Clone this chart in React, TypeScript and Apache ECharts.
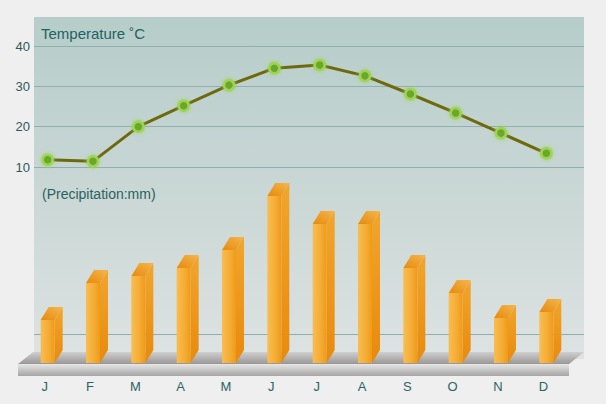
import React, { useEffect, useRef } from "react";
import * as echarts from "echarts";

const months = ["J", "F", "M", "A", "M", "J", "J", "A", "S", "O", "N", "D"];
const temperature = [11.8, 11.4, 20.0, 25.2, 30.3, 34.5, 35.3, 32.6, 28.1, 23.4, 18.4, 13.4];
const precipitation = [43, 80, 87, 95, 113, 167, 139, 139, 95, 70, 45, 51];
const tempTicks = { min: 10, max: 40, interval: 10 };

const FONT = "'Liberation Sans', Arial, sans-serif";

export default function App() {
  const ref = useRef<HTMLDivElement>(null);
  useEffect(() => {
    if (!ref.current) return;
    const chart = echarts.init(ref.current, null, { renderer: "svg" });
    const W = 14, DX = 8, DY = -13;
    const LG = echarts.graphic.LinearGradient;
    const option: any = {
      animation: false,
      grid: [
        { left: 34, right: 22, top: 46, height: 121 },
        { left: 25, right: 37, top: 46, height: 121 },
        { left: 25, right: 37, top: 17, bottom: 41 },
        { left: 22, right: 40, top: 17, bottom: 41 },
      ],
      xAxis: [
        { gridIndex: 0, type: "category", data: months, show: false },
        { gridIndex: 1, type: "category", data: months, show: false },
        { gridIndex: 2, type: "category", data: months, show: false },
        {
          gridIndex: 3, type: "category", data: months,
          axisLine: { show: false }, axisTick: { show: false },
          axisLabel: { color: "#2a6464", fontSize: 13, fontFamily: FONT, margin: 17 },
        },
      ],
      yAxis: [
        {
          gridIndex: 0, type: "value", min: tempTicks.min, max: tempTicks.max, interval: tempTicks.interval,
          axisLine: { show: false }, axisTick: { show: false },
          axisLabel: { color: "#2f5a5a", fontSize: 13, fontFamily: FONT, margin: 4 },
          splitLine: { show: true, lineStyle: { color: "#8fb0ad", width: 1 } },
        },
        { gridIndex: 1, type: "value", min: tempTicks.min, max: tempTicks.max, show: false, splitLine: { show: false } },
        { gridIndex: 2, type: "value", min: 0, max: 346, show: false, splitLine: { show: false } },
        { gridIndex: 3, type: "value", show: false, splitLine: { show: false } },
      ],
      graphic: [
        {
          type: "rect", z: -10, silent: true,
          shape: { x: 34, y: 17, width: 550, height: 342 },
          style: {
            fill: new LG(0, 0, 0, 1, [
              { offset: 0, color: "#b6cdca" },
              { offset: 0.5, color: "#c9d7d5" },
              { offset: 1, color: "#dde3e2" },
            ]),
          },
        },
        {
          type: "line", z: -5, silent: true,
          shape: { x1: 34, y1: 334.5, x2: 584, y2: 334.5 },
          style: { stroke: "#8fb0ad", lineWidth: 1 },
        },
        {
          type: "polygon", z: 1, silent: true,
          shape: { points: [[18, 364], [33, 352], [584, 352], [569, 364]] },
          style: {
            fill: new LG(0, 0, 0, 1, [
              { offset: 0, color: "#cfcfcf" },
              { offset: 1, color: "#9a9696" },
            ]),
          },
        },
        {
          type: "rect", z: 1, silent: true,
          shape: { x: 18, y: 364, width: 551, height: 12 },
          style: {
            fill: new LG(0, 0, 0, 1, [
              { offset: 0, color: "#e6e6e6" },
              { offset: 1, color: "#a6a4a4" },
            ]),
          },
        },
        {
          type: "text", z: 5, left: 41, top: 26,
          style: { text: "Temperature ˚C", fill: "#1f6262", font: `15px ${FONT}` },
        },
        {
          type: "text", z: 5, left: 42, top: 187,
          style: { text: "(Precipitation:mm)", fill: "#2a6262", font: `14px ${FONT}` },
        },
      ],
      series: [
        {
          type: "custom",
          xAxisIndex: 2,
          yAxisIndex: 2,
          z: 3,
          data: precipitation.map((v, i) => [i, v]),
          renderItem: (params: any, api: any) => {
            const top = api.coord([api.value(0), api.value(1)]);
            const base = api.coord([api.value(0), 0]);
            const x0 = top[0] - W / 2;
            const x1 = x0 + W;
            const yt = top[1];
            const yb = base[1];
            return {
              type: "group",
              children: [
                {
                  type: "polygon",
                  shape: { points: [[x1, yt], [x1 + DX, yt + DY], [x1 + DX, yb + DY], [x1, yb]] },
                  style: {
                    fill: new LG(0, 0, 0, 1, [
                      { offset: 0, color: "#f2a52c" },
                      { offset: 1, color: "#e88a0c" },
                    ]),
                  },
                },
                {
                  type: "rect",
                  shape: { x: x0, y: yt, width: W, height: yb - yt },
                  style: {
                    fill: new LG(0, 0, 1, 0, [
                      { offset: 0, color: "#f8bd50" },
                      { offset: 0.55, color: "#f5ad36" },
                      { offset: 1, color: "#ef9a18" },
                    ]),
                  },
                },
                {
                  type: "polygon",
                  shape: { points: [[x0, yt], [x1, yt], [x1 + DX, yt + DY], [x0 + DX, yt + DY]] },
                  style: {
                    fill: new LG(0, 1, 1, 0, [
                      { offset: 0, color: "#e58a0e" },
                      { offset: 1, color: "#f6b64a" },
                    ]),
                  },
                },
              ],
            };
          },
        },
        {
          type: "line",
          xAxisIndex: 1,
          yAxisIndex: 1,
          z: 4,
          data: temperature,
          symbol: "circle",
          symbolSize: 10,
          lineStyle: { color: "#6e6a0c", width: 3 },
          itemStyle: {
            color: "#6aa82a",
            borderColor: "#9fd255",
            borderWidth: 2.5,
            shadowColor: "rgba(150,210,80,0.8)",
            shadowBlur: 4,
          },
        },
      ],
    };
    chart.setOption(option);
    return () => chart.dispose();
  }, []);
  return (
    <div style={{ position: "absolute", left: 0, top: 0, width: 606, height: 404, background: "#efefef" }}>
      <div ref={ref} style={{ width: 606, height: 404 }} />
    </div>
  );
}
